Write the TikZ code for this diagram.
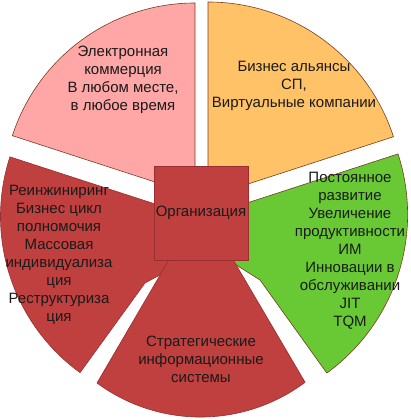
\documentclass[tikz,border=0pt]{standalone}
\usepackage{fontspec}
\setmainfont{Liberation Sans}
\definecolor{pinkfill}{HTML}{FFA6A6}
\definecolor{orangefill}{HTML}{FFC266}
\definecolor{greenfill}{HTML}{68C935}
\definecolor{redfill}{HTML}{C0403F}
\definecolor{edgebrown}{HTML}{7A3B22}
\definecolor{edgered}{HTML}{9A2E2E}
\definecolor{txt}{HTML}{1A1A1A}
\begin{document}
\begin{tikzpicture}[x=1pt,y=1pt,
  sector/.style={draw=edgebrown, line width=0.6pt, line join=miter},
  lbl/.style={align=center, inner sep=0pt, text=txt, font=\fontsize{15}{18}\selectfont}]
\useasboundingbox (0,0) rectangle (410,420);
% pink sector
\path[sector, fill=pinkfill] (195,225) -- ++(90:192) arc[start angle=90, end angle=162, radius=192] -- cycle;
% orange sector
\path[sector, fill=orangefill] (208,223) -- ++(18:195) arc[start angle=18, end angle=90, radius=195] -- cycle;
% green sector
\path[sector, fill=greenfill] (211.6,205.5) -- ++(18:196) arc[start angle=18, end angle=-54, radius=196] -- (260,140) -- (233,157) -- (228,165) -- cycle;
% left red sector
\path[sector, draw=edgered, fill=redfill] (193.5,203.5) -- ++(162:193) arc[start angle=162, end angle=234, radius=193] -- (145,137) -- (160,145) -- (175,165) -- cycle;
% bottom red sector
\path[sector, draw=edgered, fill=redfill] (201,215) -- (97,37) arc[start angle=-126.4, end angle=-53.2, radius=174.5] -- cycle;
% centre square
\node[draw=edgered, fill=redfill, line width=0.8pt, minimum width=94pt, minimum height=94pt, inner sep=0pt] (org) at (201,207) {};
\node[lbl] (orgt) at (201,207) {Организация};
% labels
\node[lbl] (ecom) at (123,340) {Электронная\\коммерция\\В любом месте,\\в любое время};
\node[lbl] (bus) at (294,334) {Бизнес альянсы\\СП,\\Виртуальные компании};
\node[lbl] (reeng) at (59,165) {Реинжиниринг\\Бизнес цикл\\полномочия\\Массовая\\индивидуализа\\ция\\Реструктуриза\\ция};
\node[lbl] (impr) at (350,169) {Постоянное\\развитие\\Увеличение\\продуктивности\\ИМ\\Инновации в\\обслуживании\\JIT\\TQM};
\node[lbl] (sis) at (201,61) {Стратегические\\информационные\\системы};
\end{tikzpicture}
\end{document}
